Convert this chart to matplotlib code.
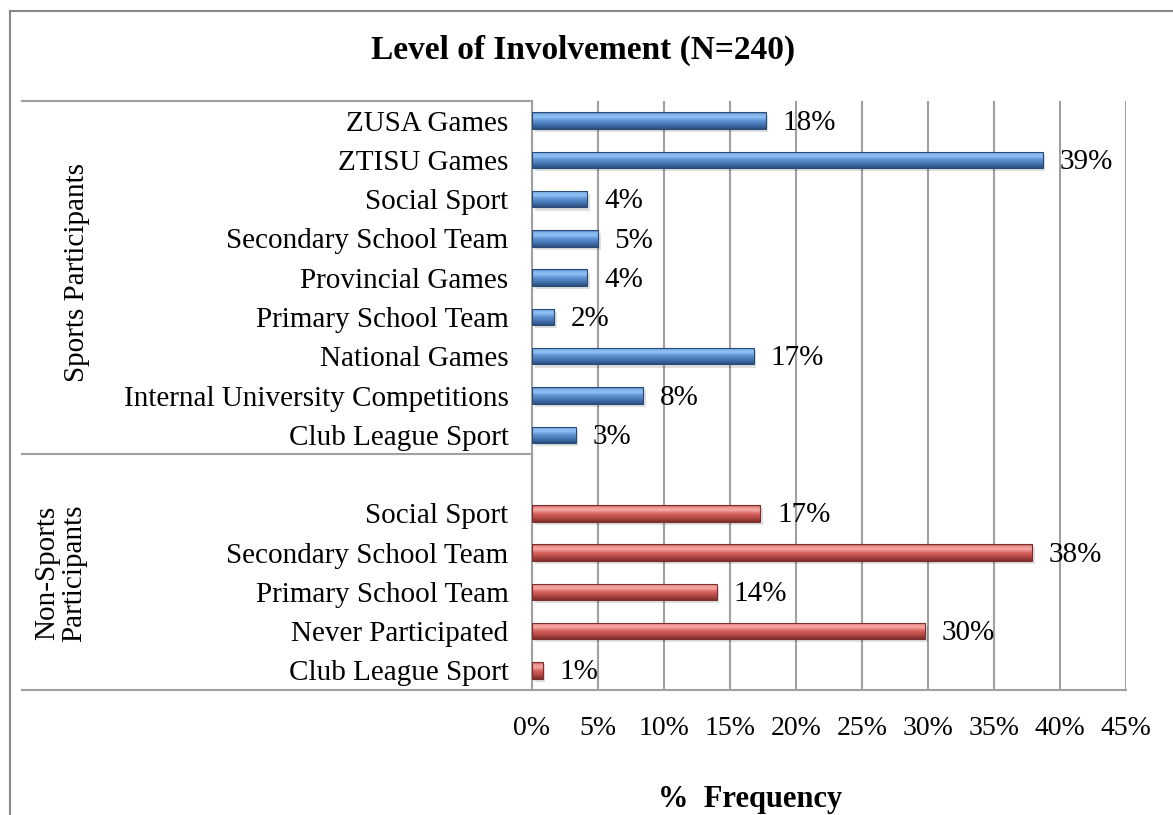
import matplotlib
matplotlib.use("Agg")
import matplotlib.pyplot as plt
import numpy as np
from matplotlib.lines import Line2D
from matplotlib.colors import LinearSegmentedColormap
from matplotlib import transforms

plt.rcParams['font.family'] = ['Liberation Serif', 'DejaVu Serif']

# data (% frequency)
sports_labels = ["ZUSA Games", "ZTISU Games", "Social Sport", "Secondary School Team",
                 "Provincial Games", "Primary School Team", "National Games",
                 "Internal University Competitions", "Club League Sport"]
sports_values = [17.7, 38.7, 4.2, 5.0, 4.2, 1.7, 16.8, 8.4, 3.3]

non_labels = ["Social Sport", "Secondary School Team", "Primary School Team",
              "Never Participated", "Club League Sport"]
non_values = [17.3, 37.9, 14.0, 29.8, 0.8]

groups = ["Sports Participants", "Non-Sports\nParticipants"]
x_ticks = [0, 5, 10, 15, 20, 25, 30, 35, 40, 45]

W, H = 1173, 815
fig = plt.figure(figsize=(W / 100, H / 100), dpi=100)


def fx(px):
    return px / W


def fy(py):
    return 1 - py / H


ax = fig.add_axes([fx(532), fy(690), fx(1126) - fx(532), fy(101) - fy(690)])

# slot positions: sports on top, one empty slot, then non-sports
sports_y = list(range(len(sports_labels)))
non_y = [len(sports_labels) + 1 + i for i in range(len(non_labels))]

bar_h = 0.42
blue_cmap = LinearSegmentedColormap.from_list(
    "blue3d", [(0, "#3d6aa3"), (0.12, "#7fb2ec"), (0.3, "#8fc1f6"),
               (0.5, "#5f93d3"), (0.7, "#4a7cba"), (1, "#2a4f80")])
red_cmap = LinearSegmentedColormap.from_list(
    "red3d", [(0, "#a84542"), (0.12, "#ec928f"), (0.3, "#f6a8a5"),
              (0.5, "#d8655f"), (0.7, "#bf4f4b"), (1, "#7f2e2c")])
grad = np.linspace(0, 1, 64).reshape(-1, 1)


def draw_bars(ys, vals, cmap, edge):
    # soft shadow
    ax.barh([y + 0.08 for y in ys], vals, height=bar_h, left=0.2,
            color="#000000", alpha=0.12, zorder=2, linewidth=0)
    bars = ax.barh(ys, vals, height=bar_h, color="none", edgecolor=edge,
                   linewidth=0.8, zorder=4)
    for b, y, v in zip(bars, ys, vals):
        im = ax.imshow(grad, cmap=cmap, aspect="auto", origin="upper",
                       extent=(0, v, y + bar_h / 2, y - bar_h / 2), zorder=3,
                       interpolation="bilinear")
        im.set_clip_path(b)
        ax.annotate(f"{v:.0f}%", xy=(v, y), xytext=(12, -1.5), textcoords="offset points",
                    ha="left", va="center", fontsize=21, zorder=5)


draw_bars(sports_y, sports_values, blue_cmap, "#2a4a74")
draw_bars(non_y, non_values, red_cmap, "#7a2f2d")

ax.set_xlim(0, 45)
ax.set_ylim(len(sports_labels) + len(non_labels) + 0.5, -0.5)
ax.set_xticks(x_ticks)
ax.set_xticklabels([f"{t}%" for t in x_ticks], fontsize=20)
ax.set_yticks(sports_y + non_y)
ax.set_yticklabels(sports_labels + non_labels, fontsize=21)
ax.tick_params(axis="both", length=0)
ax.tick_params(axis="y", pad=17)
ax.tick_params(axis="x", pad=19)

ax.grid(axis="x", color="#a0a0a0", linewidth=1.5, zorder=0)
ax.set_axisbelow(True)
for s in ["top", "right"]:
    ax.spines[s].set_visible(False)
ax.spines["left"].set_color("#a0a0a0")
ax.spines["left"].set_linewidth(1.5)
ax.spines["bottom"].set_color("#a0a0a0")
ax.spines["bottom"].set_linewidth(1.5)

# category-axis grouping lines
trans = transforms.blended_transform_factory(fig.transFigure, ax.transData)
sep = len(sports_labels) - 0.5
for y in [-0.5, sep, len(sports_labels) + len(non_labels) + 0.5]:
    ax.add_line(Line2D([fx(22), fx(532)], [y, y], transform=trans, color="#a0a0a0",
                       linewidth=1.5, clip_on=False))

# group labels
fig.text(fx(77), fy(272), groups[0], rotation=90, ha="center", va="center", fontsize=21)
fig.text(fx(61), fy(573), groups[1], rotation=90, ha="center", va="center", fontsize=21,
         linespacing=1.05)

fig.text(fx(583), fy(50), "Level of Involvement (N=240)", ha="center", va="center",
         fontsize=24, fontweight="bold")
fig.text(fx(750), fy(800), "%  Frequency", ha="center", va="center",
         fontsize=22, fontweight="bold")

# chart frame (top and left edges visible)
fig.add_artist(Line2D([fx(10), 1], [fy(11), fy(11)], color="#888888", linewidth=1.5))
fig.add_artist(Line2D([fx(10), fx(10)], [fy(11), 0], color="#888888", linewidth=1.5))

fig.savefig("out.png", dpi=100)
